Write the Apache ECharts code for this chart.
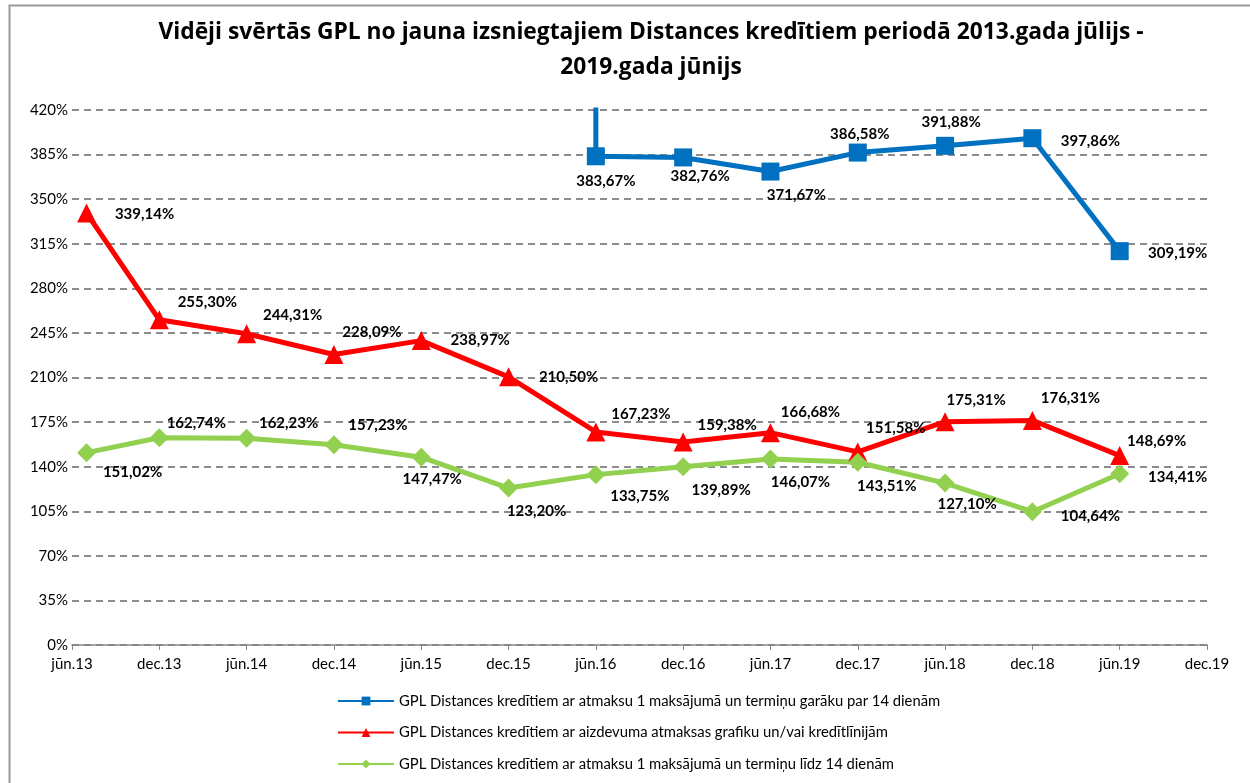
<!DOCTYPE html>
<html>
<head>
<meta charset="utf-8">
<script src="https://cdn.jsdelivr.net/npm/echarts@6/dist/echarts.min.js"></script>
<style>
  html, body { margin: 0; padding: 0; background: #fff; }
  #chart { width: 1250px; height: 783px; }
</style>
</head>
<body>
<div id="chart"></div>
<script>
// ---- data ----
const tickLabels = ['jūn.13', 'dec.13', 'jūn.14', 'dec.14', 'jūn.15', 'dec.15', 'jūn.16',
                    'dec.16', 'jūn.17', 'dec.17', 'jūn.18', 'dec.18', 'jūn.19', 'dec.19'];
// months counted from jūn.13
const months = [1, 6, 12, 18, 24, 30, 36, 42, 48, 54, 60, 66, 72];

const redValues = [339.14, 255.30, 244.31, 228.09, 238.97, 210.50, 167.23, 159.38, 166.68, 151.58, 175.31, 176.31, 148.69];
const greenValues = [151.02, 162.74, 162.23, 157.23, 147.47, 123.20, 133.75, 139.89, 146.07, 143.51, 127.10, 104.64, 134.41];
// blue series starts off the scale at jūn.16 (line comes in from the top)
const blueMonths = [36, 36, 42, 48, 54, 60, 66, 72];
const blueValues = [470, 383.67, 382.76, 371.67, 386.58, 391.88, 397.86, 309.19];

const seriesNames = [
  'GPL Distances kredītiem ar atmaksu 1 maksājumā un termiņu garāku par 14 dienām',
  'GPL Distances kredītiem ar aizdevuma atmaksas grafiku un/vai kredītlīnijām',
  'GPL Distances kredītiem ar atmaksu 1 maksājumā un termiņu līdz 14 dienām'
];

// label offsets (layout only)
const redLabelOff = [[58,1],[48,-18],[46,-19],[38,-22],[59,0],[60,0],[45,-18],[44,-17],[40,-21],[38,-24],[31,-22],[38,-22],[37,-14]];
const greenLabelOff = [[46,20],[37,-15],[42,-15],[44,-20],[11,22],[28,23],[44,22],[38,23],[30,23],[29,24],[22,21],[58,4],[58,3]];
const blueLabelOff = [null,[10,25],[17,19],[26,24],[2,-18],[6,-24],[58,3],[58,2]];

const fontFam = 'Lato, "Open Sans", sans-serif';

function fmt(v){
  return v.toFixed(2).replace('.', ',') + '%';
}

function buildData(xs, ys, offs){
  return ys.map(function(v, i){
    if (!offs[i]) {
      return { value: [xs[i], v], symbol: 'none', label: { show: false } };
    }
    return { value: [xs[i], v], label: { offset: offs[i] } };
  });
}

const labelBase = {
  show: true,
  position: 'inside',
  color: '#000',
  fontFamily: fontFam,
  fontWeight: 'bold',
  fontSize: 15,
  formatter: function(p){ return fmt(p.value[1]); }
};

let myChart = echarts.init(document.getElementById('chart'));

option = {
  backgroundColor: '#fff',
  animation: false,
  title: {
    text: 'Vidēji svērtās GPL no jauna izsniegtajiem Distances kredītiem periodā 2013.gada jūlijs -\n2019.gada jūnijs',
    left: 646,
    top: 10,
    textAlign: 'center',
    textStyle: {
      fontFamily: '"Open Sans", Lato, sans-serif',
      fontWeight: 'bold',
      fontSize: 22.8,
      lineHeight: 35,
      color: '#000'
    }
  },
  graphic: [{
    type: 'rect',
    left: 7, top: 3,
    shape: { width: 1270, height: 800 },
    style: { fill: 'none', stroke: '#9a9a9a', lineWidth: 2 },
    z: -1
  }],
  grid: {
    left: 72,
    right: 43,
    top: 110,
    bottom: 138
  },
  legend: {
    orient: 'vertical',
    left: 337,
    top: 693,
    padding: 0,
    height: 90,
    itemWidth: 56,
    itemHeight: 11,
    itemGap: 15.5,
    textStyle: { fontFamily: fontFam, fontSize: 14.8, lineHeight: 16, color: '#000' },
    data: seriesNames
  },
  xAxis: {
    type: 'value',
    min: 0,
    max: 78,
    interval: 6,
    axisLine: { show: true, lineStyle: { color: '#868686', width: 1.5 } },
    axisTick: { show: true, length: 5, lineStyle: { color: '#868686' } },
    splitLine: { show: false },
    axisLabel: {
      margin: 12,
      fontFamily: fontFam,
      fontSize: 15,
      color: '#000',
      formatter: function(v){ return tickLabels[Math.round(v / 6)]; }
    }
  },
  yAxis: {
    type: 'value',
    min: 0,
    max: 420,
    interval: 35,
    axisLine: { show: false },
    axisTick: { show: false },
    axisLabel: {
      margin: 4,
      fontFamily: fontFam,
      fontSize: 15,
      color: '#000',
      formatter: '{value}%'
    },
    splitLine: { lineStyle: { color: '#8c8c8c', width: 2, type: [7, 5] } }
  },
  series: [
    {
      name: seriesNames[0],
      type: 'line',
      clip: true,
      color: '#0070C0',
      symbol: 'rect',
      symbolSize: 18,
      lineStyle: { width: 5 },
      label: labelBase,
      data: buildData(blueMonths, blueValues, blueLabelOff)
    },
    {
      name: seriesNames[1],
      type: 'line',
      clip: true,
      color: '#FF0000',
      symbol: 'triangle',
      symbolSize: 19,
      lineStyle: { width: 5 },
      label: labelBase,
      data: buildData(months, redValues, redLabelOff)
    },
    {
      name: seriesNames[2],
      type: 'line',
      clip: true,
      color: '#92D050',
      symbol: 'diamond',
      symbolSize: 19,
      lineStyle: { width: 5 },
      label: labelBase,
      data: buildData(months, greenValues, greenLabelOff)
    }
  ]
};
myChart.setOption(option);
</script>
</body>
</html>
